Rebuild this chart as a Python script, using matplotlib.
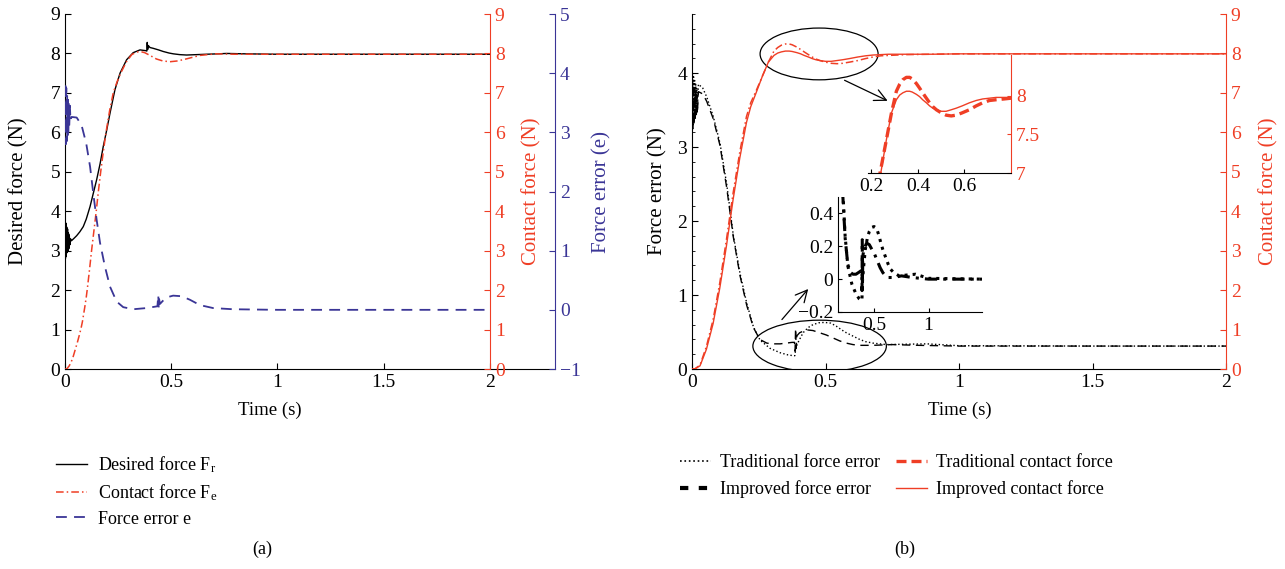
import matplotlib.pyplot as plt
from matplotlib.patches import Ellipse
from matplotlib.ticker import FuncFormatter, MultipleLocator
import numpy as np

plt.rcParams['font.family'] = ['Liberation Serif', 'DejaVu Serif']
plt.rcParams['mathtext.fontset'] = 'custom'
plt.rcParams['mathtext.rm'] = 'Liberation Serif'
plt.rcParams['mathtext.it'] = 'Liberation Serif:italic'
plt.rcParams['xtick.direction'] = 'in'
plt.rcParams['ytick.direction'] = 'in'
plt.rcParams['font.size'] = 14
plt.rcParams['axes.labelsize'] = 15

RED = '#ef3e25'
BLUE = '#3a3596'

# ---------- panel (a) data ----------
t_fr = [0, 0.002, 0.004, 0.006, 0.008, 0.010, 0.012, 0.014, 0.016, 0.018, 0.020,
        0.023, 0.026, 0.03, 0.04, 0.055, 0.07, 0.086, 0.10, 0.118, 0.133, 0.149,
        0.165, 0.18, 0.196, 0.212, 0.235, 0.259, 0.29, 0.321, 0.353, 0.381, 0.385,
        0.387, 0.389, 0.392, 0.40, 0.415, 0.44, 0.462, 0.49, 0.51, 0.54, 0.572,
        0.62, 0.666, 0.72, 0.76, 0.85, 1.0, 1.5, 2.0]
desired_force = [3.3, 2.8, 3.7, 2.85, 3.6, 2.95, 3.55, 3.0, 3.45, 3.05, 3.4,
                 3.15, 3.3, 3.25, 3.3, 3.38, 3.48, 3.61, 3.8, 4.12, 4.45, 4.8,
                 5.2, 5.64, 6.05, 6.49, 7.08, 7.5, 7.84, 8.02, 8.09, 8.07, 8.06,
                 8.28, 8.1, 8.2, 8.15, 8.13, 8.09, 8.05, 8.01, 7.99, 7.97, 7.96,
                 7.97, 7.98, 7.99, 8.0, 7.99, 7.98, 7.98, 7.98]

t_fe = [0, 0.008, 0.02, 0.035, 0.047, 0.058, 0.067, 0.075, 0.082, 0.088, 0.094,
        0.10, 0.105, 0.115, 0.125, 0.136, 0.147, 0.157, 0.168, 0.18, 0.193, 0.21,
        0.227, 0.245, 0.262, 0.288, 0.314, 0.335, 0.353, 0.375, 0.40, 0.43, 0.46,
        0.494, 0.53, 0.57, 0.635, 0.71, 0.8, 1.0, 1.5, 2.0]
contact_force = [0, 0, 0.08, 0.25, 0.47, 0.67, 0.85, 1.02, 1.2, 1.4, 1.6,
                 1.82, 2.03, 2.5, 3.0, 3.5, 4.0, 4.5, 5.0, 5.5, 6.0, 6.55,
                 7.0, 7.28, 7.5, 7.78, 7.97, 8.03, 8.05, 8.02, 7.95, 7.86, 7.81,
                 7.79, 7.81, 7.86, 7.95, 7.99, 7.98, 7.98, 7.98, 7.98]

t_e = [0, 0.002, 0.004, 0.006, 0.008, 0.010, 0.012, 0.014, 0.016, 0.018, 0.020,
       0.023, 0.026, 0.031, 0.055, 0.078, 0.10, 0.118, 0.133, 0.149, 0.165, 0.188,
       0.212, 0.243, 0.274, 0.321, 0.384, 0.435, 0.439, 0.441, 0.443, 0.447, 0.46,
       0.478, 0.509, 0.549, 0.588, 0.635, 0.697, 0.79, 1.0, 1.5, 2.0]
force_error = [3.3, 3.85, 2.8, 3.75, 2.85, 3.65, 2.95, 3.55, 3.0, 3.5, 3.1,
               3.45, 3.2, 3.26, 3.25, 3.12, 2.81, 2.42, 1.97, 1.52, 1.13, 0.73,
               0.39, 0.14, 0.045, 0.01, 0.03, 0.06, 0.25, 0.04, 0.18, 0.1, 0.15,
               0.21, 0.24, 0.23, 0.17, 0.08, 0.03, 0.01, 0.0, 0.0, 0.0]

# ---------- panel (b) data ----------
t_trad_err = [0, 0.002, 0.004, 0.006, 0.008, 0.010, 0.012, 0.014, 0.016, 0.018, 0.020,
              0.024, 0.04, 0.055, 0.08, 0.105, 0.13, 0.155, 0.18, 0.205, 0.23, 0.255,
              0.292, 0.33, 0.36, 0.38, 0.385, 0.39, 0.40, 0.416, 0.435, 0.453, 0.475,
              0.497, 0.52, 0.54, 0.56, 0.578, 0.60, 0.628, 0.65, 0.678, 0.728, 0.8,
              0.88, 1.0, 1.5, 2.0]
trad_err = [3.6, 4.0, 3.3, 3.95, 3.35, 3.9, 3.4, 3.85, 3.45, 3.8, 3.5,
            3.85, 3.8, 3.68, 3.41, 3.05, 2.5, 1.8, 1.29, 0.89, 0.57, 0.39,
            0.28, 0.22, 0.19, 0.18, 0.18, 0.3, 0.38, 0.49, 0.56, 0.6, 0.625,
            0.63, 0.62, 0.58, 0.53, 0.49, 0.45, 0.40, 0.37, 0.35, 0.33, 0.335,
            0.34, 0.315, 0.31, 0.31]

t_impr_err = [0, 0.002, 0.004, 0.006, 0.008, 0.010, 0.012, 0.014, 0.016, 0.018, 0.020,
              0.024, 0.04, 0.055, 0.08, 0.105, 0.13, 0.155, 0.18, 0.205, 0.23, 0.254,
              0.28, 0.303, 0.33, 0.353, 0.375, 0.384, 0.386, 0.388, 0.39, 0.393, 0.403,
              0.428, 0.453, 0.478, 0.503, 0.528, 0.553, 0.578, 0.603, 0.628, 0.678,
              0.75, 0.85, 1.0, 1.5, 2.0]
impr_err = [3.5, 3.9, 3.25, 3.85, 3.3, 3.8, 3.35, 3.75, 3.4, 3.7, 3.45,
            3.75, 3.72, 3.62, 3.38, 3.02, 2.45, 1.78, 1.26, 0.86, 0.56, 0.40,
            0.35, 0.34, 0.34, 0.35, 0.36, 0.36, 0.24, 0.55, 0.28, 0.45, 0.49,
            0.53, 0.52, 0.49, 0.46, 0.42, 0.38, 0.35, 0.33, 0.32, 0.32,
            0.33, 0.32, 0.31, 0.31, 0.31]

t_cf = [0, 0.01, 0.03, 0.054, 0.079, 0.104, 0.129, 0.154, 0.179, 0.204, 0.22, 0.24,
        0.264, 0.286, 0.307, 0.321, 0.335, 0.35, 0.364, 0.375, 0.393, 0.407, 0.42,
        0.436, 0.45, 0.464, 0.479, 0.5, 0.521, 0.543, 0.564, 0.59, 0.621, 0.65,
        0.678, 0.707, 0.736, 0.77, 0.8, 0.9, 1.0, 1.5, 2.0]
trad_cf = [0, 0, 0.1, 0.57, 1.25, 2.18, 3.28, 4.46, 5.5, 6.4, 6.75, 7.05,
           7.43, 7.78, 8.06, 8.15, 8.21, 8.24, 8.24, 8.22, 8.16, 8.1, 8.04,
           7.97, 7.91, 7.86, 7.82, 7.78, 7.75, 7.74, 7.75, 7.78, 7.82, 7.87,
           7.91, 7.94, 7.95, 7.96, 7.97, 7.98, 7.99, 7.99, 7.99]
impr_cf = [0, 0, 0.08, 0.5, 1.15, 2.05, 3.12, 4.3, 5.35, 6.25, 6.65, 7.0,
           7.43, 7.78, 7.95, 8.01, 8.04, 8.06, 8.06, 8.05, 8.02, 7.99, 7.95,
           7.91, 7.87, 7.84, 7.82, 7.8, 7.8, 7.82, 7.84, 7.87, 7.91, 7.94,
           7.96, 7.97, 7.98, 7.98, 7.98, 7.98, 7.99, 7.99, 7.99]

# error inset is drawn relative to the settled error level
inset_offset = 0.31

fmt = FuncFormatter(lambda v, p: f'{v:g}'.replace('-', '\u2212'))
W, H = 1285, 569


def box(x0, y0, x1, y1):
    return [x0 / W, 1 - y1 / H, (x1 - x0) / W, (y1 - y0) / H]


fig = plt.figure(figsize=(W / 100, H / 100), dpi=100)

# ================= (a) =================
ax = fig.add_axes(box(65, 14, 555, 369))
l1, = ax.plot(t_fr, desired_force, color='black', lw=1.0, label='Desired force F$_\\mathrm{r}$')
ax.set_xlim(0, 2.306)
ax.set_ylim(0, 9)
ax.set_xticks([0, 0.5, 1, 1.5, 2])
ax.set_yticks(range(10))
ax.xaxis.set_major_formatter(fmt)
ax.spines['top'].set_visible(False)
ax.spines['right'].set_visible(False)
ax.set_xlabel('Time (s)', fontsize=13.5)
ax.set_ylabel('Desired force (N)')
ax.xaxis.set_label_coords((270 - 65) / 490, (369 - 402) / 355)
ax.yaxis.set_label_coords((28 - 65) / 490, 0.5)
ax.tick_params(length=4)

axr = ax.twinx()
l2, = axr.plot(t_fe, contact_force, color=RED, lw=1.1, ls=(0, (5, 2, 1, 2)),
               label='Contact force F$_\\mathrm{e}$')
axr.set_ylim(0, 9)
axr.set_yticks(range(10))
for s in ['top', 'left', 'bottom']:
    axr.spines[s].set_visible(False)
axr.spines['right'].set_position(('axes', 425 / 490))
axr.spines['right'].set_color(RED)
axr.tick_params(axis='y', colors=RED, length=4)
axr.set_ylabel('Contact force (N)', color=RED)
axr.yaxis.set_label_coords((522 - 65) / 490, 0.5)

axe = ax.twinx()
l3, = axe.plot(t_e, force_error, color=BLUE, lw=1.3, ls=(0, (6, 4)), label='Force error e')
axe.set_ylim(-1, 5)
axe.yaxis.set_major_formatter(fmt)
for s in ['top', 'left', 'bottom']:
    axe.spines[s].set_visible(False)
axe.spines['right'].set_color(BLUE)
axe.tick_params(axis='y', colors=BLUE, length=4)
axe.set_ylabel('Force error (e)', color=BLUE)
axe.yaxis.set_label_coords((592 - 65) / 490, 0.5)

fig.legend(handles=[l1, l2, l3], loc='upper left', bbox_to_anchor=(40 / W, 1 - 438 / H),
           frameon=False, fontsize=13, handlelength=1.7, handletextpad=0.6,
           labelspacing=0.42)
fig.text(262 / W, 1 - 549 / H, '(a)', ha='center', va='center', fontsize=13)

# ================= (b) =================
bx = fig.add_axes(box(692, 14, 1226, 369))
bx.plot(t_trad_err, trad_err, color='black', lw=1.0, ls=':')
bx.plot(t_impr_err, impr_err, color='black', lw=1.0, ls=(0, (6, 4)))
bx.set_xlim(0, 2)
bx.set_ylim(0, 4.8)
bx.set_xticks([0, 0.5, 1, 1.5, 2])
bx.set_yticks(range(5))
bx.yaxis.set_minor_locator(MultipleLocator(0.2))
bx.xaxis.set_major_formatter(fmt)
bx.spines['top'].set_visible(False)
bx.spines['right'].set_visible(False)
bx.set_xlabel('Time (s)', fontsize=13.5)
bx.set_ylabel('Force error (N)')
bx.xaxis.set_label_coords((960 - 692) / 534, (369 - 402) / 355)
bx.yaxis.set_label_coords((667 - 692) / 534, 0.5)
bx.tick_params(length=4)
bx.tick_params(which='minor', length=2.5)

bxr = bx.twinx()
bxr.plot(t_cf, trad_cf, color=RED, lw=1.1, ls=(0, (5, 2, 1, 2)))
bxr.plot(t_cf, impr_cf, color=RED, lw=1.0)
bxr.set_ylim(0, 9)
bxr.set_yticks(range(10))
for s in ['top', 'left', 'bottom']:
    bxr.spines[s].set_visible(False)
bxr.spines['right'].set_color(RED)
bxr.tick_params(axis='y', colors=RED, length=4)
bxr.set_ylabel('Contact force (N)', color=RED)
bxr.yaxis.set_label_coords((1259 - 692) / 534, 0.5)

bx.add_patch(Ellipse((0.476, 4.26), 0.442, 0.70, fill=False, ec='black', lw=0.9))
bx.add_patch(Ellipse((0.478, 0.31), 0.50, 0.70, fill=False, ec='black', lw=0.9))
bx.annotate('', xy=(0.742, 3.61), xytext=(0.562, 3.92),
            arrowprops=dict(arrowstyle='->,head_length=0.6,head_width=0.3', lw=0.9))
bx.annotate('', xy=(0.442, 1.11), xytext=(0.33, 0.64),
            arrowprops=dict(arrowstyle='->,head_length=0.6,head_width=0.3', lw=0.9))

# contact force inset
ins1 = fig.add_axes(box(868, 55, 1011, 173))
ins1.patch.set_alpha(0)
h3, = ins1.plot(t_cf, trad_cf, color=RED, lw=2.4, ls=(0, (3, 1.5)), label='Traditional contact force')
h4, = ins1.plot(t_cf, impr_cf, color=RED, lw=1.0, label='Improved contact force')
ins1.set_xlim(0.185, 0.8)
ins1.set_ylim(7, 8.53)
ins1.set_xticks([0.2, 0.4, 0.6])
ins1.set_yticks([7, 7.5, 8])
ins1.xaxis.set_major_formatter(fmt)
ins1.yaxis.set_major_formatter(fmt)
ins1.yaxis.tick_right()
ins1.spines['top'].set_visible(False)
ins1.spines['left'].set_visible(False)
ins1.spines['right'].set_color(RED)
ins1.tick_params(axis='y', colors=RED, length=3)
ins1.tick_params(axis='x', length=3)

# force error inset
ins2 = fig.add_axes(box(838, 197, 982, 312))
ins2.patch.set_alpha(0)
h1, = ins2.plot(t_trad_err, np.array(trad_err) - inset_offset, color='black', lw=2.2, ls=':',
                label='Traditional force error')
h2, = ins2.plot(t_impr_err, np.array(impr_err) - inset_offset, color='black', lw=2.2,
                ls=(0, (4, 2, 1, 2)), label='Improved force error')
ins2.set_xlim(0.164, 1.494)
ins2.set_ylim(-0.2, 0.5)
ins2.set_xticks([0.5, 1])
ins2.set_yticks([-0.2, 0, 0.2, 0.4])
ins2.xaxis.set_major_formatter(fmt)
ins2.yaxis.set_major_formatter(fmt)
ins2.spines['top'].set_visible(False)
ins2.spines['right'].set_visible(False)
ins2.tick_params(length=3)

leg_b = fig.legend(handles=[h1, h2, h3, h4], loc='upper left', ncol=2,
                   bbox_to_anchor=(664 / W, 1 - 438 / H), frameon=False, fontsize=13,
                   handlelength=1.7, handletextpad=0.5, columnspacing=0.9, labelspacing=0.5)
leg_b.legend_handles[0].set_linewidth(1.2)
leg_b.legend_handles[1].set_linewidth(3.0)
leg_b.legend_handles[1].set_linestyle((0, (2, 2.5)))
fig.text(905 / W, 1 - 549 / H, '(b)', ha='center', va='center', fontsize=13)

fig.savefig('out.png', dpi=100)
